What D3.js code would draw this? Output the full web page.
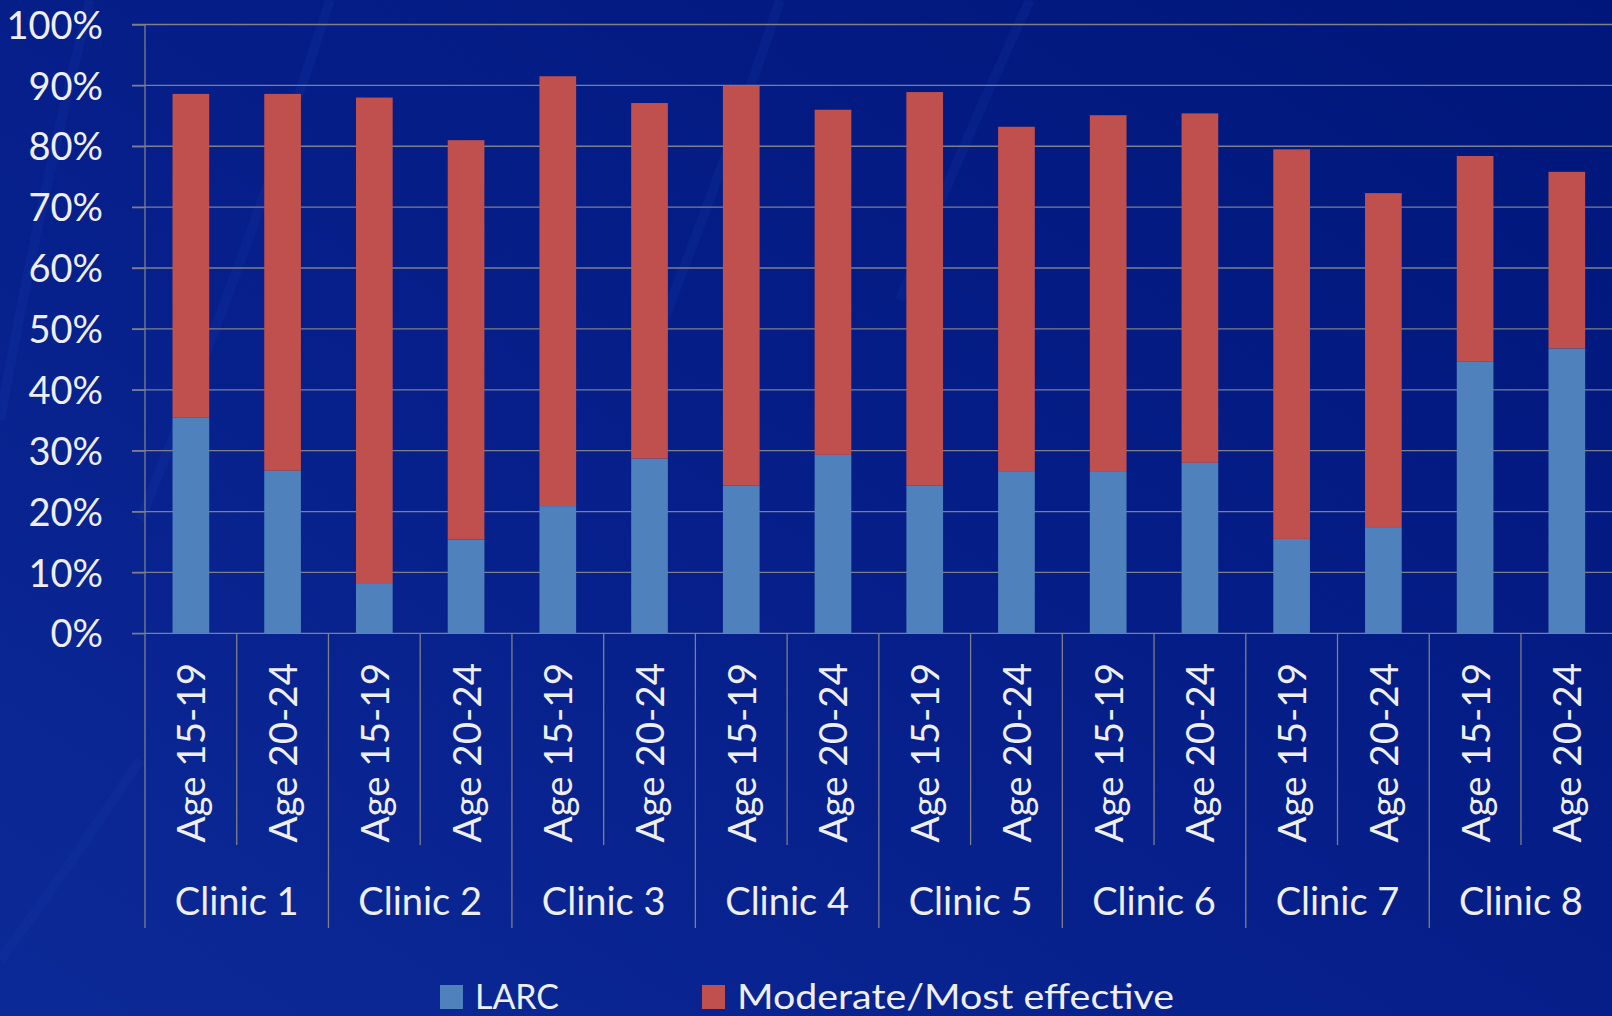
<!DOCTYPE html>
<html>
<head>
<meta charset="utf-8">
<script src="https://cdn.jsdelivr.net/npm/d3@7"></script>
<style>
  html, body { margin: 0; padding: 0; background: #04208c; }
  svg { display: block; }
  text { font-family: Lato, "Open Sans", sans-serif; fill: #eeeeee; }
</style>
</head>
<body>
<svg id="chart" width="1612" height="1016"></svg>
<script>
// ---- data ----
const clinics = ["Clinic 1", "Clinic 2", "Clinic 3", "Clinic 4", "Clinic 5", "Clinic 6", "Clinic 7", "Clinic 8"];
const ageGroups = ["Age 15-19", "Age 20-24"];
const seriesNames = ["LARC", "Moderate/Most effective"];
const larc = [35.4, 26.7, 8.1, 15.4, 20.9, 28.7, 24.3, 29.3, 24.3, 26.5, 26.5, 28.0, 15.5, 17.3, 44.6, 46.8];
const moderate = [53.2, 61.9, 79.9, 65.6, 70.6, 58.4, 65.6, 56.7, 64.6, 56.7, 58.6, 57.4, 64.0, 55.0, 33.8, 29.0];
const yTicks = [0, 10, 20, 30, 40, 50, 60, 70, 80, 90, 100];
const colors = ["#4f81bd", "#c0504d"];

// ---- layout ----
const W = 1612, H = 1016;
const plotLeft = 145, plotRight = 1612.7, plotTop = 24.5, plotBottom = 633.3;

const svg = d3.select("#chart");

// background
const defs = svg.append("defs");
const bg = defs.append("linearGradient").attr("id", "bg")
  .attr("x1", "0%").attr("y1", "100%").attr("x2", "100%").attr("y2", "0%");
bg.append("stop").attr("offset", "0%").attr("stop-color", "#0c2a97");
bg.append("stop").attr("offset", "45%").attr("stop-color", "#061f8a");
bg.append("stop").attr("offset", "100%").attr("stop-color", "#00167a");
svg.append("rect").attr("width", W).attr("height", H).attr("fill", "url(#bg)");

// faint diagonal streaks
const streaks = [
  "M 330 0 Q 250 250 140 520",
  "M 90 0 Q 40 200 0 420",
  "M 140 760 Q 60 880 0 960",
  "M 780 0 Q 720 180 640 380",
  "M 1030 0 Q 960 150 900 300"
];
svg.append("g").selectAll("path").data(streaks).join("path")
  .attr("d", d => d).attr("fill", "none")
  .attr("stroke", "#1a3aa8").attr("stroke-width", 10).attr("opacity", 0.2);

// scales
const keys = [];
clinics.forEach(c => ageGroups.forEach(a => keys.push(c + "|" + a)));
const x = d3.scaleBand().domain(keys).range([plotLeft, plotRight]).paddingInner(0.6).paddingOuter(0.3);
const y = d3.scaleLinear().domain([0, 100]).range([plotBottom, plotTop]);
const step = x.step();

// gridlines
svg.append("g").selectAll("line").data(yTicks).join("line")
  .attr("x1", 132).attr("x2", W)
  .attr("y1", d => y(d)).attr("y2", d => y(d))
  .attr("stroke", "#7c7f8c").attr("stroke-width", 1.3);

// y axis
const yAxis = d3.axisLeft(y).tickValues(yTicks).tickSize(13).tickPadding(29)
  .tickFormat(d => d + "%");
const gy = svg.append("g").attr("transform", `translate(${plotLeft},0)`).call(yAxis);
gy.select(".domain").remove();
gy.selectAll(".tick line").attr("stroke", "#7c7f8c").attr("stroke-width", 1.3);
gy.selectAll(".tick text")
  .attr("font-size", 38).attr("font-family", "Lato, sans-serif")
  .attr("fill", "#eeeeee").attr("dy", "0.36em");

// bars
const rows = keys.map((k, i) => ({ key: k, LARC: larc[i], "Moderate/Most effective": moderate[i] }));
const stacked = d3.stack().keys(seriesNames)(rows);
svg.append("g").selectAll("g").data(stacked).join("g")
  .attr("fill", (d, i) => colors[i])
  .selectAll("rect").data(d => d).join("rect")
  .attr("x", d => x(d.data.key))
  .attr("width", x.bandwidth())
  .attr("y", d => y(d[1]))
  .attr("height", d => y(d[0]) - y(d[1]));

// axes lines (vertical y axis + x separators)
const axisColor = "#7c7f8c";
svg.append("line").attr("x1", plotLeft).attr("x2", plotLeft).attr("y1", plotTop).attr("y2", plotBottom)
  .attr("stroke", axisColor).attr("stroke-width", 1.3);
const sepG = svg.append("g");
keys.forEach((k, i) => {
  const xs = plotLeft + i * step;
  const major = i % 2 === 0;
  sepG.append("line").attr("x1", xs).attr("x2", xs)
    .attr("y1", plotBottom).attr("y2", major ? 928 : 845)
    .attr("stroke", axisColor).attr("stroke-width", 1.3);
});

// age labels
svg.append("g").selectAll("text").data(keys).join("text")
  .attr("transform", d => `translate(${x(d) + x.bandwidth() / 2 + 14.5},663) rotate(-90)`)
  .attr("text-anchor", "end")
  .attr("font-size", 38.5)
  .text(d => d.split("|")[1]);

// clinic labels
svg.append("g").selectAll("text").data(clinics).join("text")
  .attr("x", (c, i) => plotLeft + (i * 2 + 1) * step)
  .attr("y", 915)
  .attr("text-anchor", "middle")
  .attr("font-size", 38)
  .text(d => d);

// legend
const legendX = [440, 702];
const legendW = [84, 437];
const lg = svg.append("g").selectAll("g").data(seriesNames).join("g");
lg.append("rect")
  .attr("x", (d, i) => legendX[i]).attr("y", 985)
  .attr("width", 23).attr("height", 24)
  .attr("fill", (d, i) => colors[i]);
lg.append("text")
  .attr("x", (d, i) => legendX[i] + 35).attr("y", 1009)
  .attr("font-size", 35)
  .attr("textLength", (d, i) => legendW[i])
  .attr("lengthAdjust", "spacingAndGlyphs")
  .text(d => d);
</script>
</body>
</html>
